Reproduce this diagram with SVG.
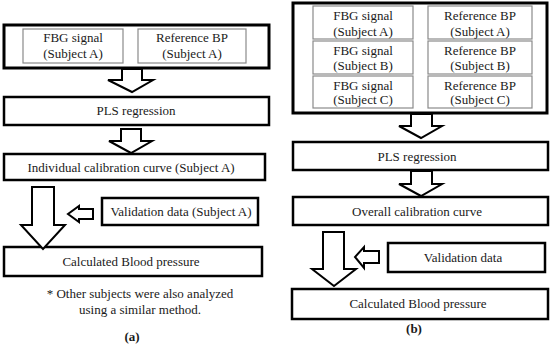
<svg xmlns="http://www.w3.org/2000/svg" width="550" height="347" viewBox="0 0 550 347">
<style>
.box{fill:#fff;stroke:#000;stroke-width:2.5}
.outer{fill:#fff;stroke:#000;stroke-width:3}
.cell{fill:#fff;stroke:#8a8a8a;stroke-width:1.2}
.arr{fill:#fff;stroke:#000;stroke-width:2;stroke-linejoin:miter}
text{font-family:"Liberation Serif","Times New Roman",serif;font-size:13px;fill:#1a1a1a;text-anchor:middle}
.lab{font-weight:bold;font-size:13px}
</style>
<rect width="550" height="347" fill="#fff"/>
<!-- Panel (a) -->
<g id="a-input">
<rect class="outer" x="4" y="25" width="265" height="43"/>
<rect class="cell" x="23" y="29" width="100" height="34"/>
<text x="73" y="42">FBG signal</text><text x="73" y="58">(Subject A)</text>
<rect class="cell" x="138" y="29" width="108" height="34"/>
<text x="192" y="42">Reference BP</text><text x="192" y="58">(Subject A)</text>
</g>
<g id="a-pls"><rect class="box" x="4" y="97" width="265" height="28"/><text x="136" y="115">PLS regression</text></g>
<g id="a-curve"><rect class="box" x="4" y="154" width="261" height="26"/><text x="131" y="172">Individual calibration curve (Subject A)</text></g>
<g id="a-valid"><rect class="box" x="102" y="198" width="156" height="27"/><text x="181" y="216">Validation data (Subject A)</text></g>
<g id="a-calc"><rect class="box" x="4" y="247" width="258" height="29"/><text x="131" y="266">Calculated Blood pressure</text></g>
<g id="a-note"><text x="140" y="298">* Other subjects were also analyzed</text><text x="140" y="314">using a similar method.</text></g>
<text class="lab" x="132" y="341">(a)</text>
<!-- Panel (b) -->
<g id="b-input">
<rect class="outer" x="293" y="3" width="254" height="110"/>
<rect class="cell" x="313" y="6" width="100" height="33"/><text x="363" y="20">FBG signal</text><text x="363" y="36">(Subject A)</text>
<rect class="cell" x="428" y="6" width="104" height="33"/><text x="480" y="20">Reference BP</text><text x="480" y="36">(Subject A)</text>
<rect class="cell" x="313" y="41" width="100" height="33"/><text x="363" y="55">FBG signal</text><text x="363" y="70">(Subject B)</text>
<rect class="cell" x="428" y="41" width="104" height="33"/><text x="480" y="55">Reference BP</text><text x="480" y="70">(Subject B)</text>
<rect class="cell" x="313" y="76" width="100" height="32"/><text x="363" y="90">FBG signal</text><text x="363" y="104">(Subject C)</text>
<rect class="cell" x="428" y="76" width="104" height="32"/><text x="480" y="90">Reference BP</text><text x="480" y="104">(Subject C)</text>
</g>
<g id="b-pls"><rect class="box" x="293" y="142" width="255" height="28"/><text x="417" y="161">PLS regression</text></g>
<g id="b-curve"><rect class="box" x="293" y="197" width="255" height="28"/><text x="417" y="216">Overall calibration curve</text></g>
<g id="b-valid"><rect class="box" x="388" y="243" width="157" height="29"/><text x="463" y="262">Validation data</text></g>
<g id="b-calc"><rect class="box" x="292" y="289" width="256" height="30"/><text x="418" y="308">Calculated Blood pressure</text></g>
<text class="lab" x="414" y="333">(b)</text>
<!-- connectors -->
<g id="connectors">
<polygon class="arr" points="122,69 142,69 142,80 153,80 132,92 108,80 122,80"/>
<polygon class="arr" points="121,129 141,129 141,141 152,141 131,153 109,141 121,141"/>
<polygon class="arr" points="32,187 54,187 54,225 65,225 43,249 21,225 32,225"/>
<polygon class="arr" points="93,209 93,219 79,219 79,222 68,214 79,206 79,209"/>
<polygon class="arr" points="411,114 432,114 432,126 442,126 421,138 399,126 411,126"/>
<polygon class="arr" points="411,171 432,171 432,184 442,184 421,196 399,184 411,184"/>
<polygon class="arr" points="323,232 344,232 344,269 356,269 334,286 312,269 323,269"/>
<polygon class="arr" points="379,251 379,263 364,263 364,268 355,257 364,247 364,251"/>
</g>
</svg>
